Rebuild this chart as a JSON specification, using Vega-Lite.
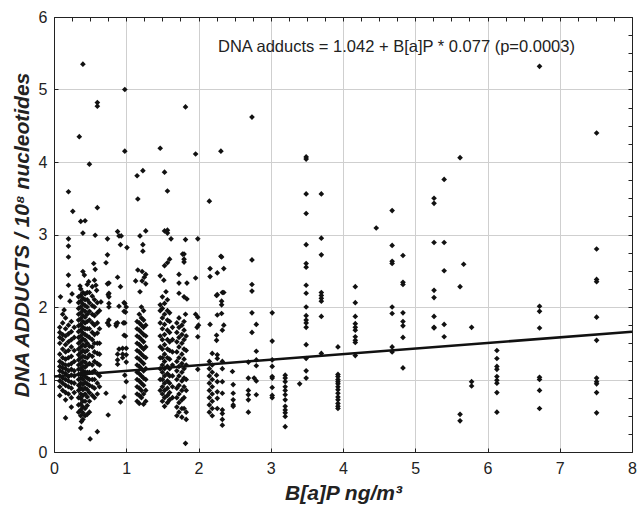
{
"$schema": "https://vega.github.io/schema/vega-lite/v6.json",
"width": 578, "height": 435,
"autosize": {"type": "none"},
"padding": {"left": 54, "top": 17, "right": 5, "bottom": 55},
"background": "white",
"config": {"view": {"stroke": "black", "strokeWidth": 1}, "font": "Liberation Sans"},
"resolve": {"axis": {"x": "independent", "y": "independent"}},
"datasets": {
"fit": [{"x": 0, "y": 1.042}, {"x": 8, "y": 1.658}],
"pts": [
{"x":0.40,"y":5.35},{"x":0.98,"y":5.00},{"x":0.60,"y":4.82},{"x":0.60,"y":4.77},{"x":1.82,"y":4.76},{"x":2.74,"y":4.62},{"x":0.35,"y":4.35},{"x":0.98,"y":4.15},{"x":1.47,"y":4.19},{"x":1.96,"y":4.11},{"x":2.31,"y":4.15},{"x":0.49,"y":3.97},{"x":1.15,"y":3.81},{"x":1.23,"y":3.88},{"x":1.53,"y":3.86},{"x":1.57,"y":3.60},{"x":0.20,"y":3.59},{"x":1.16,"y":3.49},{"x":2.15,"y":3.46},{"x":0.26,"y":3.32},{"x":0.60,"y":3.37},{"x":0.37,"y":3.18},{"x":0.43,"y":3.19},{"x":0.40,"y":3.02},{"x":0.57,"y":2.99},{"x":0.88,"y":3.04},{"x":0.90,"y":2.98},{"x":0.93,"y":2.98},{"x":0.92,"y":2.86},{"x":1.01,"y":2.82},{"x":0.74,"y":2.94},{"x":0.20,"y":2.94},{"x":0.20,"y":2.84},{"x":1.19,"y":2.98},{"x":1.27,"y":3.05},{"x":1.23,"y":2.86},{"x":1.23,"y":2.77},{"x":1.53,"y":3.05},{"x":1.57,"y":3.06},{"x":1.57,"y":3.02},{"x":1.62,"y":2.94},{"x":1.82,"y":2.93},{"x":1.99,"y":2.94},{"x":1.78,"y":2.73},{"x":2.31,"y":2.70},{"x":0.74,"y":2.72},{"x":0.20,"y":2.69},
{"x":0.72,"y":2.61},{"x":0.40,"y":2.49},{"x":0.42,"y":2.44},{"x":0.55,"y":2.60},{"x":0.57,"y":2.52},{"x":0.20,"y":2.44},{"x":0.88,"y":2.41},{"x":0.20,"y":2.30},{"x":0.36,"y":2.29},{"x":0.46,"y":2.31},{"x":0.48,"y":2.35},{"x":0.56,"y":2.37},{"x":0.58,"y":2.30},{"x":0.59,"y":2.23},{"x":0.74,"y":2.32},{"x":0.75,"y":2.17},{"x":0.92,"y":2.28},{"x":0.09,"y":2.14},{"x":0.25,"y":2.18},{"x":0.22,"y":2.08},{"x":0.97,"y":2.06},{"x":0.97,"y":1.94},{"x":0.14,"y":1.96},{"x":0.65,"y":2.07},{"x":0.90,"y":2.01},{"x":0.74,"y":1.78},{"x":0.88,"y":1.78},{"x":0.98,"y":1.78},{"x":0.97,"y":1.61},
{"x":1.80,"y":2.73},{"x":1.80,"y":2.66},{"x":1.80,"y":2.62},{"x":1.60,"y":2.66},{"x":1.57,"y":2.61},{"x":1.53,"y":2.57},{"x":1.73,"y":2.45},{"x":1.16,"y":2.51},{"x":1.22,"y":2.49},{"x":1.25,"y":2.41},{"x":1.13,"y":2.36},{"x":1.22,"y":2.36},{"x":1.47,"y":2.43},{"x":1.52,"y":2.37},{"x":1.73,"y":2.33},{"x":1.84,"y":2.33},{"x":1.96,"y":2.40},{"x":1.19,"y":2.21},{"x":1.55,"y":2.21},{"x":1.50,"y":2.14},{"x":1.47,"y":2.03},{"x":1.57,"y":2.10},{"x":1.73,"y":2.19},{"x":1.80,"y":2.14},{"x":1.84,"y":2.11},{"x":2.16,"y":2.53},{"x":2.16,"y":2.42},{"x":2.25,"y":2.16},{"x":1.82,"y":1.90},{"x":1.96,"y":1.90},{"x":2.16,"y":1.76},{"x":2.26,"y":1.89},
{"x":2.32,"y":2.69},{"x":2.35,"y":2.53},{"x":2.26,"y":2.47},{"x":2.26,"y":2.17},{"x":2.33,"y":2.20},{"x":2.35,"y":2.20},{"x":2.32,"y":2.08},{"x":2.32,"y":2.03},{"x":2.32,"y":1.91},{"x":2.35,"y":1.75},{"x":2.33,"y":1.68},{"x":2.25,"y":1.61},{"x":2.25,"y":1.54},{"x":2.74,"y":2.65},{"x":2.74,"y":2.31},{"x":2.74,"y":2.22},{"x":2.74,"y":1.92},{"x":2.80,"y":1.76},{"x":2.74,"y":1.65},{"x":2.80,"y":1.39},{"x":2.69,"y":1.24},{"x":2.80,"y":1.27},{"x":2.80,"y":1.19},{"x":2.69,"y":1.02},{"x":2.77,"y":1.02},{"x":2.80,"y":0.98},{"x":2.69,"y":0.85},{"x":2.69,"y":0.79},{"x":2.69,"y":0.72},{"x":2.80,"y":0.79},{"x":2.69,"y":0.55},
{"x":3.02,"y":1.92},{"x":3.02,"y":1.53},{"x":3.02,"y":1.27},{"x":3.02,"y":1.18},{"x":3.02,"y":1.04},{"x":3.02,"y":1.02},{"x":3.02,"y":0.89},{"x":3.02,"y":0.78},{"x":3.02,"y":0.75},
{"x":3.20,"y":1.06},{"x":3.20,"y":1.02},{"x":3.20,"y":0.97},{"x":3.20,"y":0.90},{"x":3.20,"y":0.85},{"x":3.20,"y":0.79},{"x":3.20,"y":0.72},{"x":3.20,"y":0.63},{"x":3.20,"y":0.58},{"x":3.20,"y":0.54},{"x":3.20,"y":0.49},{"x":3.20,"y":0.35},{"x":3.40,"y":0.94},
{"x":2.47,"y":1.11},{"x":2.48,"y":0.93},{"x":2.48,"y":0.81},{"x":2.48,"y":0.72},{"x":2.48,"y":0.65},{"x":2.48,"y":0.63},
{"x":2.26,"y":1.34},{"x":2.26,"y":1.29},{"x":2.25,"y":1.06},{"x":2.26,"y":0.97},{"x":2.26,"y":0.83},{"x":2.26,"y":0.74},{"x":2.26,"y":0.60},{"x":2.33,"y":1.25},{"x":2.33,"y":1.15},{"x":2.33,"y":0.97},{"x":2.33,"y":0.81},{"x":2.33,"y":0.58},{"x":2.33,"y":0.53},{"x":2.33,"y":0.45},{"x":2.33,"y":0.37},
{"x":3.49,"y":4.07},{"x":3.49,"y":4.04},{"x":3.49,"y":3.56},{"x":3.49,"y":3.29},{"x":3.49,"y":2.86},{"x":3.49,"y":2.60},{"x":3.49,"y":2.55},{"x":3.49,"y":2.30},{"x":3.49,"y":2.19},{"x":3.49,"y":2.00},{"x":3.49,"y":1.88},{"x":3.49,"y":1.82},{"x":3.49,"y":1.78},{"x":3.49,"y":1.72},{"x":3.49,"y":1.48},{"x":3.49,"y":1.29},{"x":3.49,"y":1.12},{"x":3.49,"y":1.02},
{"x":3.70,"y":3.56},{"x":3.70,"y":2.95},{"x":3.70,"y":2.72},{"x":3.70,"y":2.20},{"x":3.70,"y":2.16},{"x":3.70,"y":2.12},{"x":3.70,"y":2.08},{"x":3.70,"y":1.87},{"x":3.70,"y":1.36},
{"x":3.93,"y":1.45},{"x":3.93,"y":1.07},{"x":3.93,"y":1.04},{"x":3.93,"y":1.00},{"x":3.93,"y":0.97},{"x":3.93,"y":0.94},{"x":3.93,"y":0.90},{"x":3.93,"y":0.86},{"x":3.93,"y":0.81},{"x":3.93,"y":0.76},{"x":3.93,"y":0.72},{"x":3.93,"y":0.67},{"x":3.93,"y":0.63},{"x":3.93,"y":0.60},
{"x":4.17,"y":2.28},{"x":4.17,"y":2.06},{"x":4.17,"y":1.87},{"x":4.17,"y":1.77},{"x":4.17,"y":1.72},{"x":4.17,"y":1.68},{"x":4.17,"y":1.59},{"x":4.17,"y":1.54},{"x":4.17,"y":1.51},{"x":4.17,"y":1.33},
{"x":4.46,"y":3.09},
{"x":4.68,"y":3.33},{"x":4.68,"y":2.85},{"x":4.68,"y":2.63},{"x":4.68,"y":2.60},{"x":4.68,"y":2.00},{"x":4.68,"y":1.91},{"x":4.68,"y":1.45},{"x":4.68,"y":1.38},
{"x":4.83,"y":2.71},{"x":4.83,"y":2.34},{"x":4.83,"y":2.31},{"x":4.83,"y":1.92},{"x":4.83,"y":1.80},{"x":4.83,"y":1.74},{"x":4.83,"y":1.58},{"x":4.83,"y":1.16},
{"x":5.26,"y":3.50},{"x":5.26,"y":3.43},{"x":5.26,"y":2.89},{"x":5.26,"y":2.23},{"x":5.26,"y":2.13},{"x":5.26,"y":1.87},{"x":5.26,"y":1.72},{"x":5.26,"y":1.71},
{"x":5.40,"y":3.76},{"x":5.40,"y":2.89},{"x":5.40,"y":2.50},{"x":5.40,"y":1.76},{"x":5.40,"y":1.59},
{"x":5.62,"y":4.06},{"x":5.62,"y":2.28},{"x":5.62,"y":0.52},{"x":5.62,"y":0.43},{"x":5.67,"y":2.59},
{"x":5.78,"y":1.72},{"x":5.78,"y":0.97},{"x":5.78,"y":0.91},
{"x":6.13,"y":1.40},{"x":6.13,"y":1.29},{"x":6.13,"y":1.18},{"x":6.13,"y":1.14},{"x":6.13,"y":1.04},{"x":6.13,"y":0.99},{"x":6.13,"y":0.95},{"x":6.13,"y":0.82},{"x":6.13,"y":0.55},
{"x":6.72,"y":5.32},{"x":6.72,"y":2.01},{"x":6.72,"y":1.94},{"x":6.72,"y":1.71},{"x":6.72,"y":1.03},{"x":6.72,"y":1.00},{"x":6.72,"y":0.85},{"x":6.72,"y":0.60},
{"x":7.51,"y":4.40},{"x":7.51,"y":2.80},{"x":7.51,"y":2.38},{"x":7.51,"y":2.35},{"x":7.51,"y":1.86},{"x":7.51,"y":1.54},{"x":7.51,"y":1.02},{"x":7.51,"y":0.97},{"x":7.51,"y":0.94},{"x":7.51,"y":0.82},{"x":7.51,"y":0.54},
{"x":0.08,"y":0.78},{"x":0.08,"y":0.90},{"x":0.08,"y":0.98},{"x":0.08,"y":1.05},{"x":0.08,"y":1.12},{"x":0.08,"y":1.18},{"x":0.08,"y":1.25},{"x":0.08,"y":1.35},{"x":0.08,"y":1.50},{"x":0.08,"y":1.58},{"x":0.08,"y":1.65},{"x":0.08,"y":1.72},
{"x":0.12,"y":0.85},{"x":0.12,"y":0.95},{"x":0.12,"y":1.02},{"x":0.12,"y":1.10},{"x":0.12,"y":1.16},{"x":0.12,"y":1.22},{"x":0.12,"y":1.30},{"x":0.12,"y":1.42},{"x":0.12,"y":1.55},{"x":0.12,"y":1.62},{"x":0.12,"y":1.78},{"x":0.12,"y":1.90},
{"x":0.16,"y":0.72},{"x":0.16,"y":0.82},{"x":0.16,"y":0.92},{"x":0.16,"y":1.00},{"x":0.16,"y":1.08},{"x":0.16,"y":1.15},{"x":0.16,"y":1.20},{"x":0.16,"y":1.28},{"x":0.16,"y":1.38},{"x":0.16,"y":1.48},{"x":0.16,"y":1.60},{"x":0.16,"y":1.70},{"x":0.16,"y":1.85},{"x":0.16,"y":0.47},
{"x":0.20,"y":0.80},{"x":0.20,"y":0.90},{"x":0.20,"y":0.98},{"x":0.20,"y":1.04},{"x":0.20,"y":1.12},{"x":0.20,"y":1.20},{"x":0.20,"y":1.30},{"x":0.20,"y":1.40},{"x":0.20,"y":1.52},{"x":0.20,"y":1.63},{"x":0.20,"y":1.75},
{"x":0.24,"y":0.62},{"x":0.24,"y":0.75},{"x":0.24,"y":0.88},{"x":0.24,"y":0.96},{"x":0.24,"y":1.06},{"x":0.24,"y":1.14},{"x":0.24,"y":1.22},{"x":0.24,"y":1.32},{"x":0.24,"y":1.45},{"x":0.24,"y":1.55},{"x":0.24,"y":1.66},{"x":0.24,"y":1.80},
{"x":0.28,"y":0.82},{"x":0.28,"y":0.95},{"x":0.28,"y":1.05},{"x":0.28,"y":1.12},{"x":0.28,"y":1.25},{"x":0.28,"y":1.40},{"x":0.28,"y":1.58},{"x":0.28,"y":1.72},
{"x":0.34,"y":0.55},{"x":0.34,"y":0.65},{"x":0.34,"y":0.75},{"x":0.34,"y":0.85},{"x":0.34,"y":0.92},{"x":0.34,"y":1.00},{"x":0.34,"y":1.07},{"x":0.34,"y":1.14},{"x":0.34,"y":1.20},{"x":0.34,"y":1.27},{"x":0.34,"y":1.34},{"x":0.34,"y":1.42},{"x":0.34,"y":1.50},{"x":0.34,"y":1.58},{"x":0.34,"y":1.66},{"x":0.34,"y":1.74},{"x":0.34,"y":1.82},{"x":0.34,"y":1.90},{"x":0.34,"y":1.98},{"x":0.34,"y":2.06},{"x":0.34,"y":2.14},
{"x":0.37,"y":0.33},{"x":0.38,"y":0.42},{"x":0.37,"y":0.50},{"x":0.37,"y":0.58},{"x":0.37,"y":0.66},{"x":0.37,"y":0.74},{"x":0.37,"y":0.80},{"x":0.37,"y":0.88},{"x":0.37,"y":0.95},{"x":0.37,"y":1.02},{"x":0.37,"y":1.08},{"x":0.37,"y":1.15},{"x":0.37,"y":1.22},{"x":0.37,"y":1.30},{"x":0.37,"y":1.37},{"x":0.37,"y":1.45},{"x":0.37,"y":1.53},{"x":0.37,"y":1.60},{"x":0.37,"y":1.68},{"x":0.37,"y":1.76},{"x":0.37,"y":1.84},{"x":0.37,"y":1.92},{"x":0.37,"y":2.00},{"x":0.37,"y":2.08},{"x":0.37,"y":2.16},{"x":0.37,"y":2.25},
{"x":0.40,"y":0.45},{"x":0.40,"y":0.54},{"x":0.40,"y":0.62},{"x":0.40,"y":0.70},{"x":0.40,"y":0.78},{"x":0.40,"y":0.86},{"x":0.40,"y":0.93},{"x":0.40,"y":1.00},{"x":0.40,"y":1.06},{"x":0.40,"y":1.12},{"x":0.40,"y":1.18},{"x":0.40,"y":1.25},{"x":0.40,"y":1.32},{"x":0.40,"y":1.40},{"x":0.40,"y":1.48},{"x":0.40,"y":1.56},{"x":0.40,"y":1.64},{"x":0.40,"y":1.72},{"x":0.40,"y":1.80},{"x":0.40,"y":1.88},{"x":0.40,"y":1.96},{"x":0.40,"y":2.04},{"x":0.40,"y":2.12},{"x":0.40,"y":2.20},
{"x":0.43,"y":0.50},{"x":0.43,"y":0.60},{"x":0.43,"y":0.70},{"x":0.43,"y":0.80},{"x":0.43,"y":0.88},{"x":0.43,"y":0.96},{"x":0.43,"y":1.04},{"x":0.43,"y":1.10},{"x":0.43,"y":1.17},{"x":0.43,"y":1.24},{"x":0.43,"y":1.31},{"x":0.43,"y":1.38},{"x":0.43,"y":1.46},{"x":0.43,"y":1.54},{"x":0.43,"y":1.62},{"x":0.43,"y":1.70},{"x":0.43,"y":1.78},{"x":0.43,"y":1.86},{"x":0.43,"y":1.94},{"x":0.43,"y":2.02},{"x":0.43,"y":2.10},{"x":0.43,"y":2.18},
{"x":0.46,"y":0.52},{"x":0.46,"y":0.64},{"x":0.46,"y":0.76},{"x":0.46,"y":0.86},{"x":0.46,"y":0.94},{"x":0.46,"y":1.02},{"x":0.46,"y":1.10},{"x":0.46,"y":1.20},{"x":0.46,"y":1.30},{"x":0.46,"y":1.40},{"x":0.46,"y":1.50},{"x":0.46,"y":1.60},{"x":0.46,"y":1.70},{"x":0.46,"y":1.80},{"x":0.46,"y":1.90},{"x":0.46,"y":2.00},{"x":0.46,"y":2.10},{"x":0.46,"y":2.20},
{"x":0.50,"y":0.18},{"x":0.49,"y":0.55},{"x":0.49,"y":0.70},{"x":0.49,"y":0.82},{"x":0.49,"y":0.92},{"x":0.49,"y":1.00},{"x":0.49,"y":1.10},{"x":0.49,"y":1.22},{"x":0.49,"y":1.34},{"x":0.49,"y":1.46},{"x":0.49,"y":1.58},{"x":0.49,"y":1.70},{"x":0.49,"y":1.82},{"x":0.49,"y":1.94},{"x":0.49,"y":2.06},{"x":0.49,"y":2.20},
{"x":0.53,"y":0.78},{"x":0.53,"y":0.90},{"x":0.53,"y":1.00},{"x":0.53,"y":1.10},{"x":0.53,"y":1.20},{"x":0.53,"y":1.32},{"x":0.53,"y":1.45},{"x":0.53,"y":1.55},{"x":0.53,"y":1.65},{"x":0.53,"y":1.78},{"x":0.53,"y":1.90},{"x":0.53,"y":2.02},{"x":0.53,"y":2.15},{"x":0.53,"y":2.28},
{"x":0.56,"y":0.75},{"x":0.56,"y":0.88},{"x":0.56,"y":1.00},{"x":0.56,"y":1.12},{"x":0.56,"y":1.25},{"x":0.56,"y":1.38},{"x":0.56,"y":1.50},{"x":0.56,"y":1.62},{"x":0.56,"y":1.75},{"x":0.56,"y":1.88},{"x":0.56,"y":2.00},{"x":0.56,"y":2.10},
{"x":0.60,"y":0.28},{"x":0.60,"y":0.80},{"x":0.60,"y":0.95},{"x":0.60,"y":1.08},{"x":0.60,"y":1.22},{"x":0.60,"y":1.36},{"x":0.60,"y":1.50},{"x":0.60,"y":1.64},{"x":0.60,"y":1.78},{"x":0.60,"y":1.92},{"x":0.60,"y":2.06},
{"x":0.63,"y":0.90},{"x":0.63,"y":1.05},{"x":0.63,"y":1.20},{"x":0.63,"y":1.35},{"x":0.63,"y":1.50},{"x":0.63,"y":1.70},{"x":0.63,"y":1.95},
{"x":0.76,"y":2.33},{"x":0.76,"y":2.19},{"x":0.76,"y":2.14},{"x":0.76,"y":2.05},{"x":0.76,"y":2.00},{"x":0.76,"y":1.82},{"x":0.76,"y":1.75},{"x":0.72,"y":0.81},{"x":0.75,"y":0.51},
{"x":0.98,"y":2.05},{"x":1.00,"y":2.00},{"x":0.99,"y":1.93},{"x":0.96,"y":1.78},{"x":0.99,"y":1.60},{"x":0.90,"y":1.42},{"x":0.95,"y":1.30},{"x":1.00,"y":1.24},{"x":0.88,"y":1.35},{"x":0.88,"y":1.27},{"x":0.88,"y":1.21},{"x":0.95,"y":1.43},{"x":0.95,"y":1.35},{"x":1.00,"y":1.43},{"x":1.00,"y":1.34},{"x":0.98,"y":1.06},{"x":1.00,"y":0.97},{"x":0.97,"y":0.76},{"x":0.92,"y":0.69},{"x":0.86,"y":1.77},{"x":0.86,"y":1.74},
{"x":1.15,"y":0.70},{"x":1.15,"y":0.80},{"x":1.15,"y":0.90},{"x":1.15,"y":1.00},{"x":1.15,"y":1.10},{"x":1.15,"y":1.20},{"x":1.15,"y":1.30},{"x":1.15,"y":1.40},{"x":1.15,"y":1.50},{"x":1.15,"y":1.60},{"x":1.15,"y":1.70},{"x":1.15,"y":1.80},
{"x":1.18,"y":0.67},{"x":1.18,"y":0.78},{"x":1.18,"y":0.88},{"x":1.18,"y":0.98},{"x":1.18,"y":1.08},{"x":1.18,"y":1.18},{"x":1.18,"y":1.28},{"x":1.18,"y":1.38},{"x":1.18,"y":1.48},{"x":1.18,"y":1.58},{"x":1.18,"y":1.68},{"x":1.18,"y":1.78},{"x":1.18,"y":1.90},
{"x":1.21,"y":0.75},{"x":1.21,"y":0.85},{"x":1.21,"y":0.95},{"x":1.21,"y":1.05},{"x":1.21,"y":1.15},{"x":1.21,"y":1.25},{"x":1.21,"y":1.35},{"x":1.21,"y":1.45},{"x":1.21,"y":1.55},{"x":1.21,"y":1.65},{"x":1.21,"y":1.75},{"x":1.21,"y":1.85},{"x":1.21,"y":2.00},
{"x":1.24,"y":0.66},{"x":1.24,"y":0.80},{"x":1.24,"y":0.92},{"x":1.24,"y":1.02},{"x":1.24,"y":1.12},{"x":1.24,"y":1.22},{"x":1.24,"y":1.32},{"x":1.24,"y":1.42},{"x":1.24,"y":1.52},{"x":1.24,"y":1.62},{"x":1.24,"y":1.72},{"x":1.24,"y":1.82},{"x":1.24,"y":1.95},
{"x":1.27,"y":0.70},{"x":1.27,"y":0.85},{"x":1.27,"y":1.00},{"x":1.27,"y":1.15},{"x":1.27,"y":1.30},{"x":1.27,"y":1.45},{"x":1.27,"y":1.60},{"x":1.27,"y":1.75},{"x":1.27,"y":2.32},{"x":1.27,"y":2.45},
{"x":1.47,"y":0.85},{"x":1.47,"y":1.00},{"x":1.47,"y":1.15},{"x":1.47,"y":1.30},{"x":1.47,"y":1.45},{"x":1.47,"y":1.60},{"x":1.47,"y":1.78},{"x":1.47,"y":1.95},
{"x":1.50,"y":0.70},{"x":1.50,"y":0.80},{"x":1.50,"y":0.90},{"x":1.50,"y":1.00},{"x":1.50,"y":1.10},{"x":1.50,"y":1.20},{"x":1.50,"y":1.30},{"x":1.50,"y":1.42},{"x":1.50,"y":1.55},{"x":1.50,"y":1.70},{"x":1.50,"y":1.85},{"x":1.50,"y":1.98},
{"x":1.53,"y":0.63},{"x":1.53,"y":0.75},{"x":1.53,"y":0.85},{"x":1.53,"y":0.95},{"x":1.53,"y":1.05},{"x":1.53,"y":1.15},{"x":1.53,"y":1.25},{"x":1.53,"y":1.35},{"x":1.53,"y":1.48},{"x":1.53,"y":1.62},{"x":1.53,"y":1.76},{"x":1.53,"y":1.90},{"x":1.53,"y":2.05},
{"x":1.57,"y":0.68},{"x":1.57,"y":0.78},{"x":1.57,"y":0.88},{"x":1.57,"y":0.98},{"x":1.57,"y":1.08},{"x":1.57,"y":1.18},{"x":1.57,"y":1.30},{"x":1.57,"y":1.42},{"x":1.57,"y":1.55},{"x":1.57,"y":1.68},{"x":1.57,"y":1.82},{"x":1.57,"y":1.95},
{"x":1.60,"y":0.72},{"x":1.60,"y":0.82},{"x":1.60,"y":0.95},{"x":1.60,"y":1.05},{"x":1.60,"y":1.15},{"x":1.60,"y":1.28},{"x":1.60,"y":1.40},{"x":1.60,"y":1.52},{"x":1.60,"y":1.65},{"x":1.60,"y":1.80},{"x":1.60,"y":1.92},
{"x":1.64,"y":0.75},{"x":1.64,"y":0.90},{"x":1.64,"y":1.05},{"x":1.64,"y":1.20},{"x":1.64,"y":1.38},{"x":1.64,"y":1.55},{"x":1.64,"y":1.72},
{"x":1.70,"y":0.50},{"x":1.70,"y":0.62},{"x":1.70,"y":0.75},{"x":1.70,"y":0.88},{"x":1.70,"y":1.00},{"x":1.70,"y":1.12},{"x":1.70,"y":1.25},{"x":1.70,"y":1.38},{"x":1.70,"y":1.52},{"x":1.70,"y":1.65},{"x":1.70,"y":1.78},
{"x":1.73,"y":0.55},{"x":1.73,"y":0.68},{"x":1.73,"y":0.80},{"x":1.73,"y":0.92},{"x":1.73,"y":1.05},{"x":1.73,"y":1.18},{"x":1.73,"y":1.30},{"x":1.73,"y":1.45},{"x":1.73,"y":1.58},{"x":1.73,"y":1.72},{"x":1.73,"y":1.85},
{"x":1.77,"y":0.48},{"x":1.77,"y":0.60},{"x":1.77,"y":0.72},{"x":1.77,"y":0.85},{"x":1.77,"y":0.98},{"x":1.77,"y":1.10},{"x":1.77,"y":1.22},{"x":1.77,"y":1.35},{"x":1.77,"y":1.50},{"x":1.77,"y":1.62},{"x":1.77,"y":1.75},
{"x":1.80,"y":0.60},{"x":1.80,"y":0.75},{"x":1.80,"y":0.90},{"x":1.80,"y":1.02},{"x":1.80,"y":1.15},{"x":1.80,"y":1.28},{"x":1.80,"y":1.42},{"x":1.80,"y":1.55},{"x":1.80,"y":1.68},{"x":1.80,"y":1.80},
{"x":1.83,"y":0.45},{"x":1.83,"y":0.55},{"x":1.83,"y":0.85},{"x":1.83,"y":1.00},{"x":1.83,"y":1.20},{"x":1.83,"y":1.40},{"x":1.83,"y":1.60},{"x":1.82,"y":0.12},
{"x":1.99,"y":1.86},{"x":1.98,"y":1.72},{"x":1.99,"y":1.14},{"x":1.99,"y":1.59},{"x":2.00,"y":1.75},
{"x":2.15,"y":0.55},{"x":2.15,"y":0.65},{"x":2.15,"y":0.75},{"x":2.15,"y":0.85},{"x":2.15,"y":0.95},{"x":2.15,"y":1.05},{"x":2.15,"y":1.15},{"x":2.15,"y":1.25},
{"x":2.19,"y":0.50},{"x":2.19,"y":0.60},{"x":2.19,"y":0.70},{"x":2.19,"y":0.80},{"x":2.19,"y":0.90},{"x":2.19,"y":1.00},{"x":2.19,"y":1.10},{"x":2.19,"y":1.20},{"x":2.19,"y":1.36}
]
},
"layer": [
{
"data": {"name": "pts"},
"mark": {"type": "point", "shape": "diamond", "filled": true, "size": 32, "color": "#111111", "opacity": 1},
"encoding": {
"x": {"field": "x", "type": "quantitative", "scale": {"domain": [0, 8], "nice": false, "zero": false},
"axis": {"values": [0,0.25,0.5,0.75,1,1.25,1.5,1.75,2,2.25,2.5,2.75,3,3.25,3.5,3.75,4,4.25,4.5,4.75,5,5.25,5.5,5.75,6,6.25,6.5,6.75,7,7.25,7.5,7.75,8],
"format": "d",
"labelExpr": "datum.value % 1 === 0 ? datum.label : ''",
"labelFlush": false, "labelOverlap": false, "labelFontSize": 16, "labelColor": "#222222", "labelPadding": 12,
"tickSize": -4, "tickColor": "#222222", "domainColor": "#222222",
"grid": true, "gridColor": "#cfcfcf", "gridOpacity": {"condition": {"test": "datum.value % 1 === 0", "value": 1}, "value": 0},
"title": "B[a]P  ng/m³", "titleFontSize": 21, "titleFontWeight": "bold", "titleFontStyle": "italic", "titleColor": "#222222", "titlePadding": 6}},
"y": {"field": "y", "type": "quantitative", "scale": {"domain": [0, 6], "nice": false},
"axis": {"values": [0,0.25,0.5,0.75,1,1.25,1.5,1.75,2,2.25,2.5,2.75,3,3.25,3.5,3.75,4,4.25,4.5,4.75,5,5.25,5.5,5.75,6],
"format": "d",
"labelExpr": "datum.value % 1 === 0 ? datum.label : ''",
"labelFlush": false, "labelOverlap": false, "labelFontSize": 16, "labelColor": "#222222", "labelPadding": 11,
"tickSize": -4, "tickColor": "#222222", "domainColor": "#222222",
"grid": true, "gridColor": "#cfcfcf", "gridOpacity": {"condition": {"test": "datum.value % 1 === 0", "value": 1}, "value": 0},
"title": "DNA ADDUCTS / 10⁸ nucleotides", "titleFontSize": 21, "titleFontWeight": "bold", "titleFontStyle": "italic", "titleColor": "#222222", "titlePadding": 6}}
}
},
{
"data": {"name": "fit"},
"mark": {"type": "line", "color": "#111111", "strokeWidth": 2.5},
"encoding": {
"x": {"field": "x", "type": "quantitative",
"axis": {"orient": "top", "values": [0,0.25,0.5,0.75,1,1.25,1.5,1.75,2,2.25,2.5,2.75,3,3.25,3.5,3.75,4,4.25,4.5,4.75,5,5.25,5.5,5.75,6,6.25,6.5,6.75,7,7.25,7.5,7.75,8], "labels": false, "tickSize": -4, "tickColor": "#222222", "domainColor": "#222222", "grid": false, "title": null}},
"y": {"field": "y", "type": "quantitative",
"axis": {"orient": "right", "values": [0,0.25,0.5,0.75,1,1.25,1.5,1.75,2,2.25,2.5,2.75,3,3.25,3.5,3.75,4,4.25,4.5,4.75,5,5.25,5.5,5.75,6], "labels": false, "tickSize": -4, "tickColor": "#222222", "domainColor": "#222222", "grid": false, "title": null}}
}
},
{
"data": {"values": [{}]},
"mark": {"type": "text", "text": "DNA adducts = 1.042 + B[a]P * 0.077 (p=0.0003)", "fontSize": 16.5, "align": "center", "baseline": "middle", "color": "#222222"},
"encoding": {
"x": {"datum": 4.74, "type": "quantitative", "axis": null},
"y": {"datum": 5.59, "type": "quantitative", "axis": null}
}
}
]
}
